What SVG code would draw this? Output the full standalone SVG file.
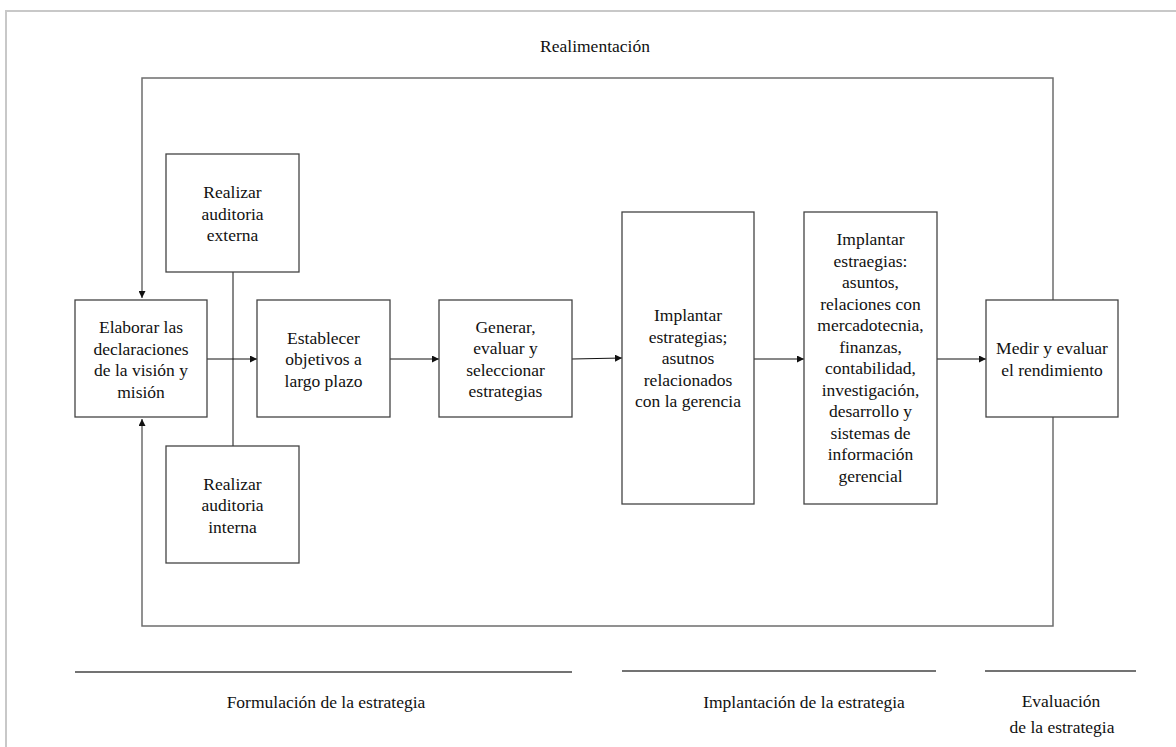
<svg xmlns="http://www.w3.org/2000/svg" width="1176" height="747" viewBox="0 0 1176 747">
  <style>
    .box { fill: #ffffff; stroke: #444444; stroke-width: 1.3; }
    .lbl { font-family: "Liberation Serif", "Times New Roman", serif; font-size: 17.5px; fill: #111111; text-anchor: middle; }
    .wire { fill: none; stroke: #111111; stroke-width: 1; }
    .loop { fill: none; stroke: #6e6e6e; stroke-width: 1.5; }
    .rule { fill: none; stroke: #444444; stroke-width: 1.3; }
  </style>
  <defs>
    <marker id="arrow" viewBox="0 0 10 10" refX="10" refY="5" markerWidth="7" markerHeight="7" markerUnits="userSpaceOnUse" orient="auto">
      <path d="M0,0 L10,5 L0,10 z" fill="#111111"/>
    </marker>
  </defs>

  <rect width="1176" height="747" fill="#ffffff"/>
  <!-- page frame -->
  <path d="M6,747 L6,11 L1176,11" fill="none" stroke="#c8c8c8" stroke-width="2"/>

  <text class="lbl" x="595" y="52">Realimentación</text>

  <!-- connectors -->
  <g id="connectors">
    <!-- feedback loop -->
    <path class="loop" d="M1053,300 L1053,78 L142,78 L142,298" marker-end="url(#arrow)"/>
    <path class="loop" d="M1053,417 L1053,626 L142,626 L142,419" marker-end="url(#arrow)"/>
    <!-- audits joined to the main line -->
    <path class="wire" d="M233,272 L233,446"/>
    <!-- main flow -->
    <path class="wire" d="M207,359 L257,359" marker-end="url(#arrow)"/>
    <path class="wire" d="M390,359 L439,359" marker-end="url(#arrow)"/>
    <path class="wire" d="M572,359 L622,358" marker-end="url(#arrow)"/>
    <path class="wire" d="M754,359 L804,359" marker-end="url(#arrow)"/>
    <path class="wire" d="M937,359 L986,359" marker-end="url(#arrow)"/>
  </g>

  <g id="elaborar">
    <rect class="box" x="75" y="300" width="132" height="117"/>
    <text class="lbl" x="141" y="333">Elaborar las</text>
    <text class="lbl" x="141" y="354.5">declaraciones</text>
    <text class="lbl" x="141" y="376">de la visión y</text>
    <text class="lbl" x="141" y="397.5">misión</text>
  </g>

  <g id="auditoria-externa">
    <rect class="box" x="166" y="154" width="133" height="118"/>
    <text class="lbl" x="232.5" y="198">Realizar</text>
    <text class="lbl" x="232.5" y="219.5">auditoria</text>
    <text class="lbl" x="232.5" y="241">externa</text>
  </g>

  <g id="auditoria-interna">
    <rect class="box" x="166" y="446" width="133" height="117"/>
    <text class="lbl" x="232.5" y="489.5">Realizar</text>
    <text class="lbl" x="232.5" y="511">auditoria</text>
    <text class="lbl" x="232.5" y="532.5">interna</text>
  </g>

  <g id="objetivos">
    <rect class="box" x="257" y="300" width="133" height="117"/>
    <text class="lbl" x="323.5" y="343.5">Establecer</text>
    <text class="lbl" x="323.5" y="365">objetivos a</text>
    <text class="lbl" x="323.5" y="386.5">largo plazo</text>
  </g>

  <g id="estrategias">
    <rect class="box" x="439" y="300" width="133" height="117"/>
    <text class="lbl" x="505.5" y="332.5">Generar,</text>
    <text class="lbl" x="505.5" y="354">evaluar y</text>
    <text class="lbl" x="505.5" y="375.5">seleccionar</text>
    <text class="lbl" x="505.5" y="397">estrategias</text>
  </g>

  <g id="implantar-gerencia">
    <rect class="box" x="622" y="212" width="132" height="292"/>
    <text class="lbl" x="688" y="321">Implantar</text>
    <text class="lbl" x="688" y="342.5">estrategias;</text>
    <text class="lbl" x="688" y="364">asutnos</text>
    <text class="lbl" x="688" y="385.5">relacionados</text>
    <text class="lbl" x="688" y="407">con la gerencia</text>
  </g>

  <g id="implantar-areas">
    <rect class="box" x="804" y="212" width="133" height="292"/>
    <text class="lbl" x="870.5" y="245">Implantar</text>
    <text class="lbl" x="870.5" y="266.5">estraegias:</text>
    <text class="lbl" x="870.5" y="288">asuntos,</text>
    <text class="lbl" x="870.5" y="309.5">relaciones con</text>
    <text class="lbl" x="870.5" y="331">mercadotecnia,</text>
    <text class="lbl" x="870.5" y="352.5">finanzas,</text>
    <text class="lbl" x="870.5" y="374">contabilidad,</text>
    <text class="lbl" x="870.5" y="395.5">investigación,</text>
    <text class="lbl" x="870.5" y="417">desarrollo y</text>
    <text class="lbl" x="870.5" y="438.5">sistemas de</text>
    <text class="lbl" x="870.5" y="460">información</text>
    <text class="lbl" x="870.5" y="481.5">gerencial</text>
  </g>

  <g id="medir">
    <rect class="box" x="986" y="300" width="132" height="117"/>
    <text class="lbl" x="1052" y="354">Medir y evaluar</text>
    <text class="lbl" x="1052" y="375.5">el rendimiento</text>
  </g>

  <!-- stage captions -->
  <g id="fases">
    <path class="rule" d="M75,672 L572,672"/>
    <path class="rule" d="M622,671 L936,671"/>
    <path class="rule" d="M985,671 L1136,671"/>
    <text class="lbl" x="326" y="708">Formulación de la estrategia</text>
    <text class="lbl" x="804" y="708">Implantación de la estrategia</text>
    <text class="lbl" x="1061" y="707">Evaluación</text>
    <text class="lbl" x="1062" y="733">de la estrategia</text>
  </g>
</svg>
